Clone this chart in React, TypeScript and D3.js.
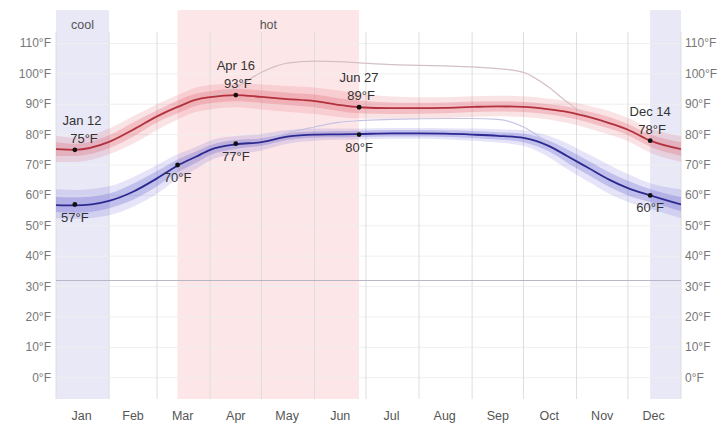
import React from "react";
import * as d3 from "d3";

const DAYS = [0, 11, 31, 45, 59, 71, 82, 90, 105, 120, 135, 151, 165, 177, 196, 212, 227, 243, 258, 273, 288, 299, 311, 323, 334, 347, 365];

const HIGH = [75.2, 75, 77.6, 81.6, 86, 89.1, 91.5, 92.3, 93, 92.4, 91.7, 91, 89.8, 89, 88.7, 88.7, 88.8, 89.1, 89.3, 89.1, 88.3, 87.4, 85.8, 83.8, 81.6, 78, 75.2];
const HIGH_P90 = [79.5, 79, 82, 86, 90, 93, 95.5, 96.3, 96.8, 96.5, 96, 95.5, 94.5, 93.5, 92.5, 92.3, 92.3, 92.6, 92.8, 92.6, 91.8, 91, 89.5, 87.8, 85.5, 82, 79.5];
const HIGH_P75 = [77.5, 77, 79.8, 84, 88, 91.2, 93.5, 94.3, 95, 94.5, 93.8, 93.2, 92, 91.2, 90.6, 90.5, 90.6, 90.9, 91, 90.8, 90, 89.2, 87.6, 85.8, 83.5, 80, 77.5];
const HIGH_P25 = [73, 73, 75.5, 79.3, 84, 87, 89.5, 90.3, 91, 90.4, 89.7, 89, 87.8, 87, 86.8, 86.9, 87, 87.4, 87.6, 87.4, 86.6, 85.6, 84, 82, 79.8, 76, 73];
const HIGH_P10 = [71, 71, 73.5, 77, 81.5, 85, 87.5, 88.3, 89, 88.3, 87.5, 86.8, 85.8, 85.3, 85.2, 85.2, 85.4, 85.8, 86, 85.8, 85, 83.8, 82, 80, 77.8, 74, 71];
const FEELS_HIGH = [75.2, 75, 77.6, 81.6, 86, 89.1, 91.5, 92.5, 95.5, 100.5, 103.5, 104.2, 104, 103.6, 103, 102.8, 102.6, 102.3, 101.7, 100.5, 95.5, 90.5, 86, 83.8, 81.6, 78, 75.2];

const LOW = [56.8, 56.7, 58.2, 61.2, 65.6, 69.8, 72.8, 75, 76.8, 77.5, 79.3, 80, 80.1, 80.2, 80.4, 80.4, 80.3, 80, 79.6, 78.9, 76.2, 72.8, 69, 65.2, 62.4, 60, 57];
const LOW_P90 = [62, 61.8, 63, 66, 70, 73.5, 76, 78, 79.5, 80.2, 81.5, 82, 82, 82, 82.2, 82.2, 82.1, 82, 81.8, 81.4, 79.5, 77, 73.5, 70, 67, 64, 62];
const LOW_P75 = [59.5, 59.3, 60.6, 63.8, 68, 71.8, 74.5, 76.5, 78.2, 78.8, 80.4, 81, 81.2, 81.3, 81.5, 81.5, 81.4, 81.2, 80.8, 80.3, 78, 75, 71.3, 67.6, 64.8, 62, 59.5];
const LOW_P25 = [54.5, 54.3, 55.8, 58.6, 63, 67.5, 70.8, 73.3, 75.3, 76.3, 78.2, 79, 79.1, 79.2, 79.4, 79.4, 79.3, 78.9, 78.4, 77.5, 74.4, 70.6, 66.7, 62.8, 60, 57.8, 54.8];
const LOW_P10 = [52.5, 52.3, 53.5, 56.3, 60.5, 65.5, 68.8, 71.5, 73.5, 74.8, 77, 78, 78.3, 78.4, 78.6, 78.6, 78.5, 78, 77.4, 76.3, 72.5, 68.5, 64.5, 60.5, 57.8, 55.5, 52.5];
const FEELS_LOW = [56.8, 56.7, 58.2, 61.2, 65.6, 69.8, 72.8, 75, 76.8, 77.8, 80.5, 82.5, 84, 84.6, 85, 85.2, 85.3, 85.3, 85, 82.5, 77, 72.8, 69, 65.2, 62.4, 60, 57];

const MONTHS = ["Jan", "Feb", "Mar", "Apr", "May", "Jun", "Jul", "Aug", "Sep", "Oct", "Nov", "Dec"];
const MONTH_MID = [15, 45, 74, 105, 135, 166, 196, 227, 258, 288, 319, 349];
const MONTH_START = [0, 31, 59, 90, 120, 151, 181, 212, 243, 273, 304, 334, 365];
const Y_TICKS = [0, 10, 20, 30, 40, 50, 60, 70, 80, 90, 100, 110];
const FREEZING = 32;

const SEASONS = [
  { label: "cool", start: 0, end: 31, showLabel: true, kind: "cool" },
  { label: "hot", start: 71, end: 177, showLabel: true, kind: "hot" },
  { label: "cool", start: 347, end: 365, showLabel: false, kind: "cool" },
];

const HIGH_MARKS = [
  { day: 11, value: 75, date: "Jan 12" },
  { day: 105, value: 93, date: "Apr 16" },
  { day: 177, value: 89, date: "Jun 27" },
  { day: 347, value: 78, date: "Dec 14" },
];
const LOW_MARKS = [
  { day: 11, value: 57 },
  { day: 71, value: 70 },
  { day: 105, value: 77 },
  { day: 177, value: 80 },
  { day: 347, value: 60 },
];

const W = 728;
const H = 428;
const X0 = 56;
const X1 = 681;
const YTOP = 10;
const YBOT = 399;

export default function App() {
  const x = d3.scaleLinear().domain([0, 365]).range([X0, X1]);
  const y = d3.scaleLinear().domain([-7, 121]).range([YBOT, YTOP]);
  const curve = d3.curveMonotoneX;

  const line = (vals: number[]) =>
    d3.line<number>().x((_, i) => x(DAYS[i])).y((v) => y(v)).curve(curve)(vals) || "";
  const area = (lo: number[], hi: number[]) =>
    d3
      .area<number>()
      .x((_, i) => x(DAYS[i]))
      .y0((_, i) => y(lo[i]))
      .y1((_, i) => y(hi[i]))
      .curve(curve)(DAYS) || "";

  const font = "'Liberation Sans', Arial, sans-serif";

  return (
    <svg width={W} height={H} style={{ position: "absolute", left: 0, top: 0, background: "#fff" }} fontFamily={font}>
      <defs>
        <clipPath id="plot">
          <rect x={X0} y={YTOP} width={X1 - X0} height={YBOT - YTOP} />
        </clipPath>
      </defs>
      {SEASONS.map((s, i) => (
        <rect
          key={"s" + i}
          x={x(s.start)}
          y={YTOP}
          width={x(s.end) - x(s.start)}
          height={YBOT - YTOP}
          fill={s.kind === "hot" ? "#fde6e8" : "#e8e8f6"}
        />
      ))}
      {SEASONS.filter((s) => s.showLabel).map((s, i) => (
        <text key={"sl" + i} x={(x(s.start) + x(s.end)) / 2} y={29} textAnchor="middle" fontSize={12.5} fill="#555">
          {s.label}
        </text>
      ))}
      {Y_TICKS.map((t) => (
        <line key={"h" + t} x1={X0} x2={X1} y1={y(t)} y2={y(t)} stroke="#efefef" strokeWidth={1} />
      ))}
      {MONTH_START.map((d) => (
        <line key={"v" + d} x1={x(d)} x2={x(d)} y1={32} y2={YBOT} stroke="#dedede" strokeWidth={1} />
      ))}
      <line x1={X0} x2={X1} y1={y(FREEZING)} y2={y(FREEZING)} stroke="#b5b5c6" strokeWidth={1} />
      <g clipPath="url(#plot)">
        <path d={area(HIGH_P10, HIGH_P90)} fill="rgba(225,90,100,0.17)" />
        <path d={area(HIGH_P25, HIGH_P75)} fill="rgba(220,80,95,0.24)" />
        <path d={area(LOW_P10, LOW_P90)} fill="rgba(95,90,210,0.16)" />
        <path d={area(LOW_P25, LOW_P75)} fill="rgba(80,75,200,0.24)" />
        <path d={line(FEELS_HIGH)} fill="none" stroke="#d3c0c4" strokeWidth={1.2} />
        <path d={line(FEELS_LOW)} fill="none" stroke="#c6c3e4" strokeWidth={1.2} />
        <path d={line(HIGH)} fill="none" stroke="#b3303d" strokeWidth={1.8} />
        <path d={line(LOW)} fill="none" stroke="#2c2990" strokeWidth={1.8} />
      </g>
      {HIGH_MARKS.map((m) => {
        const px = x(m.day);
        const py = y(m.value);
        const lx = Math.min(Math.max(px, X0 + 26), X1 - 28);
        return (
          <g key={"hm" + m.day}>
            <circle cx={px} cy={py} r={2.4} fill="#111" />
            <text x={lx} y={py - 25} textAnchor="middle" fontSize={13} fill="#333">
              {m.date}
            </text>
            <text x={lx + 2} y={py - 7} textAnchor="middle" fontSize={13} fill="#333">
              {m.value}°F
            </text>
          </g>
        );
      })}
      {LOW_MARKS.map((m) => {
        const px = x(m.day);
        const py = y(m.value);
        const lx = Math.min(Math.max(px, X0 + 18), X1 - 18);
        return (
          <g key={"lm" + m.day}>
            <circle cx={px} cy={py} r={2.4} fill="#111" />
            <text x={lx} y={py + 17} textAnchor="middle" fontSize={13} fill="#333">
              {m.value}°F
            </text>
          </g>
        );
      })}
      {Y_TICKS.map((t) => (
        <g key={"yl" + t}>
          <text x={51} y={y(t) + 4} textAnchor="end" fontSize={12} fill="#777">
            {t}°F
          </text>
          <text x={685} y={y(t) + 4} textAnchor="start" fontSize={12} fill="#777">
            {t}°F
          </text>
        </g>
      ))}
      {MONTHS.map((m, i) => (
        <text key={m} x={x(MONTH_MID[i])} y={420} textAnchor="middle" fontSize={12.5} fill="#555">
          {m}
        </text>
      ))}
    </svg>
  );
}
